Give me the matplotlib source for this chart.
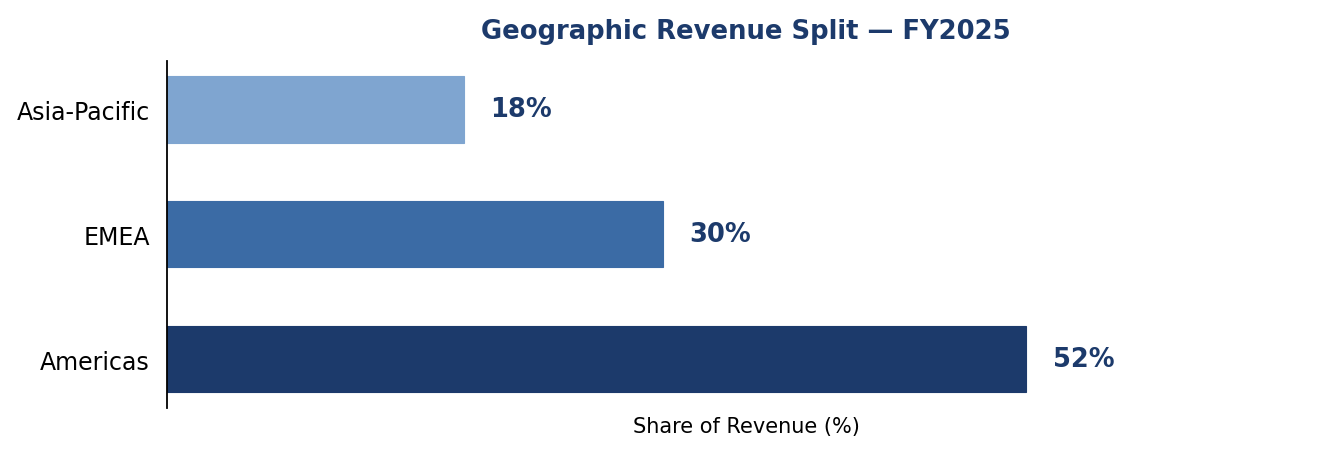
"""Geographic revenue split, horizontal bar chart."""

import matplotlib
matplotlib.use("Agg")
import matplotlib.pyplot as plt

# ── Data ──────────────────────────────────────────────────────────────────────
regions = ["Americas", "EMEA", "Asia-Pacific"]
shares = [52, 30, 18]
bar_colors = ["#1c3a6b", "#3b6ba5", "#7fa5d0"]

NAVY = "#1c3a6b"

fig, ax = plt.subplots(figsize=(13.43, 4.56), dpi=100)
fig.subplots_adjust(left=0.124, right=0.987, top=0.865, bottom=0.103)

ax.barh(regions, shares, height=0.53, color=bar_colors,
        edgecolor=bar_colors, linewidth=0.8)

# value labels to the right of each bar
for y, val in enumerate(shares):
    ax.text(val + 1.6, y, f"{val}%", va="center", ha="left",
            fontsize=18.5, fontweight="bold", color=NAVY)

ax.set_xlim(0, 70.1)
ax.set_xticks([])
ax.set_xlabel("Share of Revenue (%)", fontsize=15, labelpad=6)
ax.tick_params(axis="y", labelsize=17, length=0, pad=12)
for side in ("top", "right", "bottom"):
    ax.spines[side].set_visible(False)
ax.spines["left"].set_linewidth(1.3)

ax.set_title("Geographic Revenue Split — FY2025", fontsize=18.6,
             fontweight="bold", color=NAVY, pad=16)

fig.savefig("out.png", dpi=100)
plt.close(fig)
